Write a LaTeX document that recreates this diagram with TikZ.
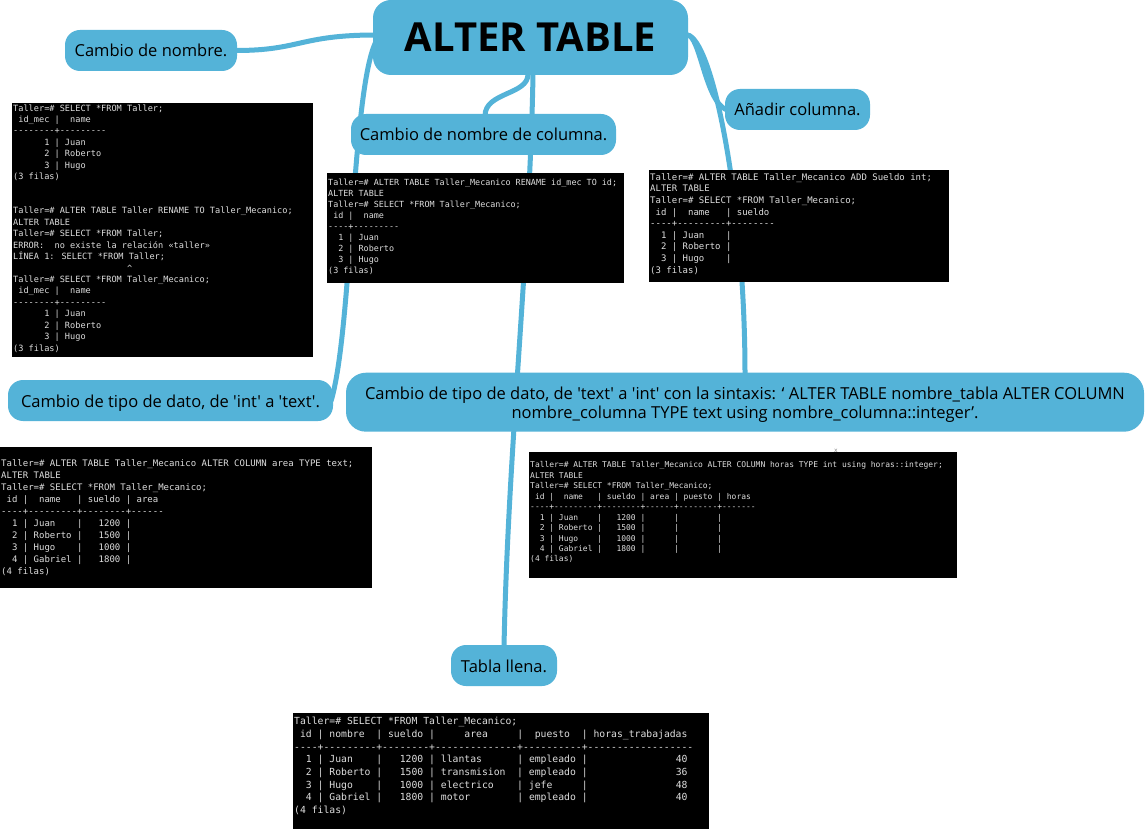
\documentclass[tikz,border=0pt]{standalone}
\usepackage{fontspec}
\usetikzlibrary{backgrounds}
\newfontfamily\osans{Open Sans}[Ligatures=TeXOff]
\newfontfamily\term{DejaVu Sans Mono}[Ligatures=TeXOff]
\definecolor{mmblue}{RGB}{84,179,216}
\definecolor{termfg}{RGB}{222,222,222}
\newcommand\spc[1]{\kern#1\fontcharwd\font`x\relax}
\newcommand\tl[1]{\hbox{#1}}
\newcommand\caret{\char`\^}
\newcommand\tlines[2]{\vtop{\baselineskip=#1\lineskiplimit=-100pt\relax #2}}
\begin{document}
\begin{tikzpicture}[x=1pt,y=-1pt,
  conn/.style={draw=mmblue, line width=5pt, line cap=round},
  topic/.style={fill=mmblue, rounded corners=15pt, inner sep=0pt, text=black,
    font=\osans\fontsize{16.5}{19}\selectfont, text height=16pt, text depth=3pt},
  termbox/.style={fill=black, inner sep=0pt, anchor=north west},
  termtext/.style={text=termfg, inner sep=0pt, anchor=base west}]
\useasboundingbox (0,0) rectangle (1146,829);

% ---------- topics ----------
\node[topic, rounded corners=18pt, minimum width=315pt, minimum height=75pt,
  font=\osans\bfseries\fontsize{40}{48}\selectfont, text height=28.6pt, text depth=0pt] (main) at (530.5,37.5) {ALTER TABLE};
\node[topic, minimum width=172pt, minimum height=41pt] (n1) at (151,50.5) {Cambio de nombre.};
\node[topic, minimum width=265pt, minimum height=41pt] (n2) at (483.5,134.5) {Cambio de nombre de columna.};
\node[topic, minimum width=145pt, minimum height=41pt] (n3) at (797.5,109.5) {Añadir columna.};
\node[topic, minimum width=325pt, minimum height=41pt] (n4) at (170.5,400.5) {Cambio de tipo de dato, de 'int' a 'text'.};
\node[topic, rounded corners=20pt, minimum width=798pt, minimum height=59pt, text height=16pt, text depth=21.8pt] (n5) at (745,402.2)
  {\begin{tabular}[t]{@{}c@{}}Cambio de tipo de dato, de 'text' a 'int' con la sintaxis: ‘ ALTER TABLE nombre\_tabla ALTER COLUMN\\
   nombre\_columna TYPE text using nombre\_columna::integer’.\end{tabular}};
\node[topic, minimum width=106pt, minimum height=41pt] (n6) at (504,665.5) {Tabla llena.};

% ---------- terminal screenshots ----------
\node[termbox, minimum width=301pt, minimum height=254pt] (t1) at (12,103) {};
\node[termtext, font=\term\fontsize{8.6}{11.43}\selectfont] (t1txt) at (13,111.1) {\tlines{11.43pt}{%
\tl{Taller=\# SELECT *FROM Taller;}
\tl{\spc{1}id\_mec |\spc{2}name}
\tl{--------+---------}
\tl{\spc{6}1 | Juan}
\tl{\spc{6}2 | Roberto}
\tl{\spc{6}3 | Hugo}
\tl{(3 filas)}
\tl{}
\tl{}
\tl{Taller=\# ALTER TABLE Taller RENAME TO Taller\_Mecanico;}
\tl{ALTER TABLE}
\tl{Taller=\# SELECT *FROM Taller;}
\tl{ERROR:\spc{2}no existe la relación «taller»}
\tl{LÍNEA 1: SELECT *FROM Taller;}
\tl{\spc{22}\caret}
\tl{Taller=\# SELECT *FROM Taller\_Mecanico;}
\tl{\spc{1}id\_mec |\spc{2}name}
\tl{--------+---------}
\tl{\spc{6}1 | Juan}
\tl{\spc{6}2 | Roberto}
\tl{\spc{6}3 | Hugo}
\tl{(3 filas)}}};

\node[termbox, minimum width=297pt, minimum height=110pt] (t2) at (327,173) {};
\node[termtext, font=\term\fontsize{8.42}{11.1}\selectfont] (t2txt) at (328,185.1) {\tlines{11.1pt}{%
\tl{Taller=\# ALTER TABLE Taller\_Mecanico RENAME id\_mec TO id;}
\tl{ALTER TABLE}
\tl{Taller=\# SELECT *FROM Taller\_Mecanico;}
\tl{\spc{1}id |\spc{2}name}
\tl{----+---------}
\tl{\spc{2}1 | Juan}
\tl{\spc{2}2 | Roberto}
\tl{\spc{2}3 | Hugo}
\tl{(3 filas)}}};

\node[termbox, minimum width=300pt, minimum height=112pt] (t3) at (649,170) {};
\node[termtext, font=\term\fontsize{9}{11.6}\selectfont] (t3txt) at (650,180.3) {\tlines{11.6pt}{%
\tl{Taller=\# ALTER TABLE Taller\_Mecanico ADD Sueldo int;}
\tl{ALTER TABLE}
\tl{Taller=\# SELECT *FROM Taller\_Mecanico;}
\tl{\spc{1}id |\spc{2}name\spc{3}| sueldo}
\tl{----+---------+--------}
\tl{\spc{2}1 | Juan\spc{4}|}
\tl{\spc{2}2 | Roberto |}
\tl{\spc{2}3 | Hugo\spc{4}|}
\tl{(3 filas)}}};

\node[termbox, minimum width=372pt, minimum height=141pt] (t4) at (0,447) {};
\node[termtext, font=\term\fontsize{9}{12}\selectfont] (t4txt) at (1,466.3) {\tlines{12pt}{%
\tl{Taller=\# ALTER TABLE Taller\_Mecanico ALTER COLUMN area TYPE text;}
\tl{ALTER TABLE}
\tl{Taller=\# SELECT *FROM Taller\_Mecanico;}
\tl{\spc{1}id |\spc{2}name\spc{3}| sueldo | area}
\tl{----+---------+--------+------}
\tl{\spc{2}1 | Juan\spc{4}|\spc{3}1200 |}
\tl{\spc{2}2 | Roberto |\spc{3}1500 |}
\tl{\spc{2}3 | Hugo\spc{4}|\spc{3}1000 |}
\tl{\spc{2}4 | Gabriel |\spc{3}1800 |}
\tl{(4 filas)}}};

\node[text=gray, inner sep=0pt, font=\term\fontsize{6}{7}\selectfont] (xmark) at (836,451) {x};
\node[termbox, minimum width=428pt, minimum height=126pt] (t5) at (529,452) {};
\node[termtext, font=\term\fontsize{7.97}{10.45}\selectfont] (t5txt) at (530,467.9) {\tlines{10.45pt}{%
\tl{Taller=\# ALTER TABLE Taller\_Mecanico ALTER COLUMN horas TYPE int using horas::integer;}
\tl{ALTER TABLE}
\tl{Taller=\# SELECT *FROM Taller\_Mecanico;}
\tl{\spc{1}id |\spc{2}name\spc{3}| sueldo | area | puesto | horas}
\tl{----+---------+--------+------+--------+-------}
\tl{\spc{2}1 | Juan\spc{4}|\spc{3}1200 |\spc{6}|\spc{8}|}
\tl{\spc{2}2 | Roberto |\spc{3}1500 |\spc{6}|\spc{8}|}
\tl{\spc{2}3 | Hugo\spc{4}|\spc{3}1000 |\spc{6}|\spc{8}|}
\tl{\spc{2}4 | Gabriel |\spc{3}1800 |\spc{6}|\spc{8}|}
\tl{(4 filas)}}};

\node[termbox, minimum width=416pt, minimum height=116pt] (t6) at (293,713) {};
\node[termtext, font=\term\fontsize{9.75}{12.7}\selectfont] (t6txt) at (294,724.6) {\tlines{12.7pt}{%
\tl{Taller=\# SELECT *FROM Taller\_Mecanico;}
\tl{\spc{1}id | nombre\spc{2}| sueldo |\spc{5}area\spc{5}|\spc{2}puesto\spc{2}| horas\_trabajadas}
\tl{----+---------+--------+--------------+----------+------------------}
\tl{\spc{2}1 | Juan\spc{4}|\spc{3}1200 | llantas\spc{6}| empleado |\spc{15}40}
\tl{\spc{2}2 | Roberto |\spc{3}1500 | transmision\spc{2}| empleado |\spc{15}36}
\tl{\spc{2}3 | Hugo\spc{4}|\spc{3}1000 | electrico\spc{4}| jefe\spc{5}|\spc{15}48}
\tl{\spc{2}4 | Gabriel |\spc{3}1800 | motor\spc{8}| empleado |\spc{15}40}
\tl{(4 filas)}}};

% ---------- connectors (behind everything) ----------
\begin{scope}[on background layer]
\fill[white] (0,0) rectangle (1146,829);
\draw[conn] ([xshift=3pt,yshift=2.5pt]main.west) .. controls (300,35) and (300,50.5) .. ([xshift=-1pt]n1.east);
\draw[conn] ([xshift=-2.5pt,yshift=1pt]main.south) .. controls (528,95) and (485,92) .. ([xshift=1.5pt,yshift=-2pt]n2.north);
\draw[conn] ([xshift=2.5pt,yshift=1pt]main.south) .. controls (530,250) and (508,450) .. ([yshift=-2pt]n6.north);
\draw[conn] ([xshift=-1pt,yshift=2.5pt]main.east) .. controls (700,35) and (705,100) .. ([xshift=1pt]n3.west);
\draw[conn] ([xshift=-1pt,yshift=2.5pt]main.east) .. controls (712,38) and (745,200) .. ([yshift=-2pt]n5.north);
\draw[conn] ([xshift=3pt,yshift=-4.5pt]main.west) .. controls (352,90) and (352,330) .. ([xshift=-2pt]n4.east);
\end{scope}
\end{tikzpicture}
\end{document}
